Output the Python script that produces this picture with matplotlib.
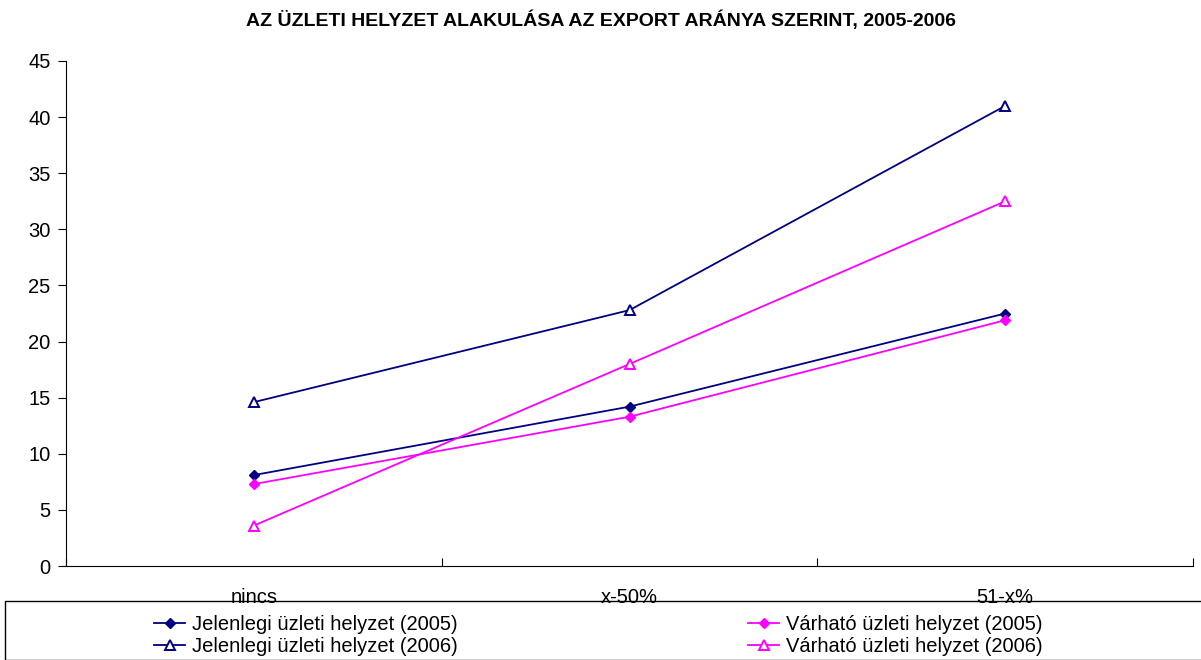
import matplotlib
matplotlib.use('Agg')
from matplotlib import pyplot as plt
from matplotlib.patches import Rectangle

plt.rcParams['font.family'] = ['Liberation Sans', 'DejaVu Sans']

categories = ['nincs', 'x-50%', '51-x%']
jelenlegi_2005 = [8.1, 14.2, 22.5]
varhato_2005 = [7.3, 13.3, 21.9]
jelenlegi_2006 = [14.6, 22.8, 41.0]
varhato_2006 = [3.6, 18.0, 32.5]
title = 'AZ ÜZLETI HELYZET ALAKULÁSA AZ EXPORT ARÁNYA SZERINT, 2005-2006'

navy = '#000080'
magenta = '#FF00FF'


def main():
    fig = plt.figure(figsize=(12.01, 6.6), dpi=100)
    ax = fig.add_axes([66 / 1201, 1 - 566 / 660, (1193 - 66) / 1201, (566 - 61) / 660])

    x = range(len(categories))
    ax.plot(x, jelenlegi_2005, color=navy, lw=1.3, marker='D', ms=5.5, mfc=navy, mec=navy,
            label='Jelenlegi üzleti helyzet (2005)')
    ax.plot(x, varhato_2005, color=magenta, lw=1.3, marker='D', ms=5.5, mfc=magenta, mec=magenta,
            label='Várható üzleti helyzet (2005)')
    ax.plot(x, jelenlegi_2006, color=navy, lw=1.3, marker='^', ms=7.5, mfc='white', mec=navy, mew=1.4,
            label='Jelenlegi üzleti helyzet (2006)')
    ax.plot(x, varhato_2006, color=magenta, lw=1.3, marker='^', ms=7.5, mfc='white', mec=magenta, mew=1.4,
            label='Várható üzleti helyzet (2006)')

    ax.set_xlim(-0.5, len(categories) - 0.5)
    ax.set_ylim(0, 45)
    ax.set_yticks(range(0, 46, 5))
    ax.set_xticks([i - 0.5 for i in range(len(categories) + 1)], minor=False)
    ax.set_xticklabels([])
    ax.set_xticks(list(x), minor=True)
    ax.set_xticklabels(categories, minor=True)
    ax.tick_params(axis='x', which='major', direction='in', length=6, width=0.8)
    ax.tick_params(axis='x', which='minor', length=0, pad=16, labelsize=14.5)
    ax.tick_params(axis='y', direction='out', length=6, width=0.8, labelsize=14.5, pad=5)
    for s in ['top', 'right']:
        ax.spines[s].set_visible(False)

    fig.text(0.5, 1 - 20 / 660, title, ha='center', va='center', fontsize=14, fontweight='bold')

    fig.patches.append(Rectangle((5 / 1201, 0), 1.2, 59 / 660, transform=fig.transFigure,
                                 fill=False, edgecolor='black', lw=1))
    h, l = ax.get_legend_handles_labels()
    order = [0, 2, 1, 3]
    fig.legend([h[i] for i in order], [l[i] for i in order], ncol=2, frameon=False,
               loc='upper left', bbox_to_anchor=(142 / 1201, 1 - 603 / 660),
               fontsize=14.5, handlelength=1.55, handletextpad=0.35, columnspacing=14.4,
               labelspacing=0.15, borderpad=0.1, markerscale=0.9)

    fig.savefig('out.png', dpi=100)


if __name__ == '__main__':
    main()
